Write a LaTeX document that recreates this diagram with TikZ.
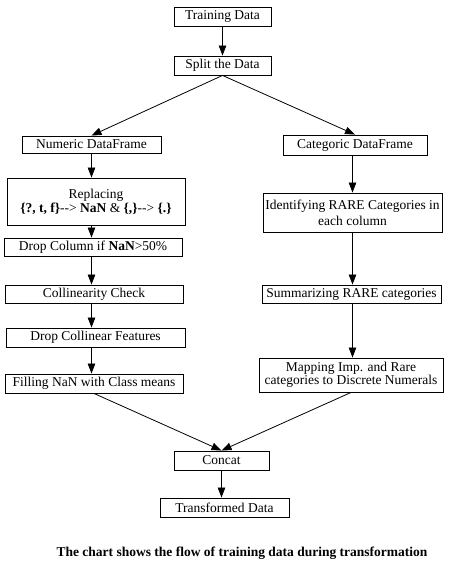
\documentclass[tikz,border=0pt]{standalone}
\usepackage{fontspec}
\setmainfont{Liberation Serif}
\usetikzlibrary{arrows.meta}

\begin{document}
\begin{tikzpicture}[x=1pt, y=-1pt,
  box/.style={draw, line width=0.9pt, inner sep=1pt, align=center, font=\fontsize{13.5}{13}\selectfont},
  flow/.style={-{Triangle[length=10pt, width=7.5pt]}, line width=0.8pt}]

\useasboundingbox (0,0) rectangle (452,567);

% Define the boxes of the chart
\node[box, minimum width=97pt, minimum height=19pt] (train) at (222.5,16.5) {Training Data};
\node[box, minimum width=97pt, minimum height=19pt] (split) at (222.5,65.5) {Split the Data};

\node[box, minimum width=139pt, minimum height=17pt] (num) at (91.5,144.5) {Numeric DataFrame};
\node[box, minimum width=178pt, minimum height=47pt] (repl) at (96,201.5) {Replacing\\[1pt] \textbf{\{?, t, f\}}-{}-> \textbf{NaN} \& \textbf{\{,\}}-{}-> \textbf{\{.\}}};
\node[box, minimum width=178pt, minimum height=18pt] (dropcol) at (93,247) {Drop Column if \textbf{NaN}>50\%};
\node[box, minimum width=178pt, minimum height=18pt] (coll) at (94,294) {Collinearity Check};
\node[box, minimum width=179pt, minimum height=19pt] (dropcoll) at (95.5,337.5) {Drop Collinear Features};
\node[box, minimum width=178pt, minimum height=19pt] (fill) at (94,383.5) {Filling NaN with Class means};

\node[box, minimum width=144pt, minimum height=20pt] (cat) at (355,145) {Categoric DataFrame};
\node[box, minimum width=179pt, minimum height=39pt] (ident) at (352.5,212.5) {Identifying RARE Categories in\\[3pt] each column};
\node[box, minimum width=179pt, minimum height=18pt] (summ) at (351.5,294) {Summarizing RARE categories};
\node[box, minimum width=184pt, minimum height=34pt] (map) at (351,375) {Mapping Imp. and Rare\\ categories to Discrete Numerals};

\node[box, minimum width=95pt, minimum height=19pt] (concat) at (221.5,460.5) {Concat};
\node[box, minimum width=129pt, minimum height=19pt] (trans) at (224.5,507.5) {Transformed Data};

\node[font=\fontsize{13.5}{13}\selectfont\bfseries] (caption) at (242,553) {The chart shows the flow of training data during transformation};

% Draw the arrows
\draw[flow] (train) -- (split);
\draw[flow] (split.south) -- (num.north);
\draw[flow] (split.south) -- (cat.north);

\draw[flow] (num.south) -- (num.south |- repl.north);
\draw[flow] (repl.south -| num.south) -- (num.south |- dropcol.north);
\draw[flow] (dropcol.south -| num.south) -- (num.south |- coll.north);
\draw[flow] (coll.south -| num.south) -- (num.south |- dropcoll.north);
\draw[flow] (dropcoll.south -| num.south) -- (num.south |- fill.north);

\draw[flow] (cat.south -| ident.north) -- (ident.north);
\draw[flow] (ident.south) -- (ident.south |- summ.north);
\draw[flow] (summ.south -| ident.south) -- (ident.south |- map.north);

\draw[flow] (fill.south) -- (concat.north);
\draw[flow] (map.south) -- (concat.north);
\draw[flow] (concat.south) -- (concat.south |- trans.north);

\end{tikzpicture}
\end{document}
